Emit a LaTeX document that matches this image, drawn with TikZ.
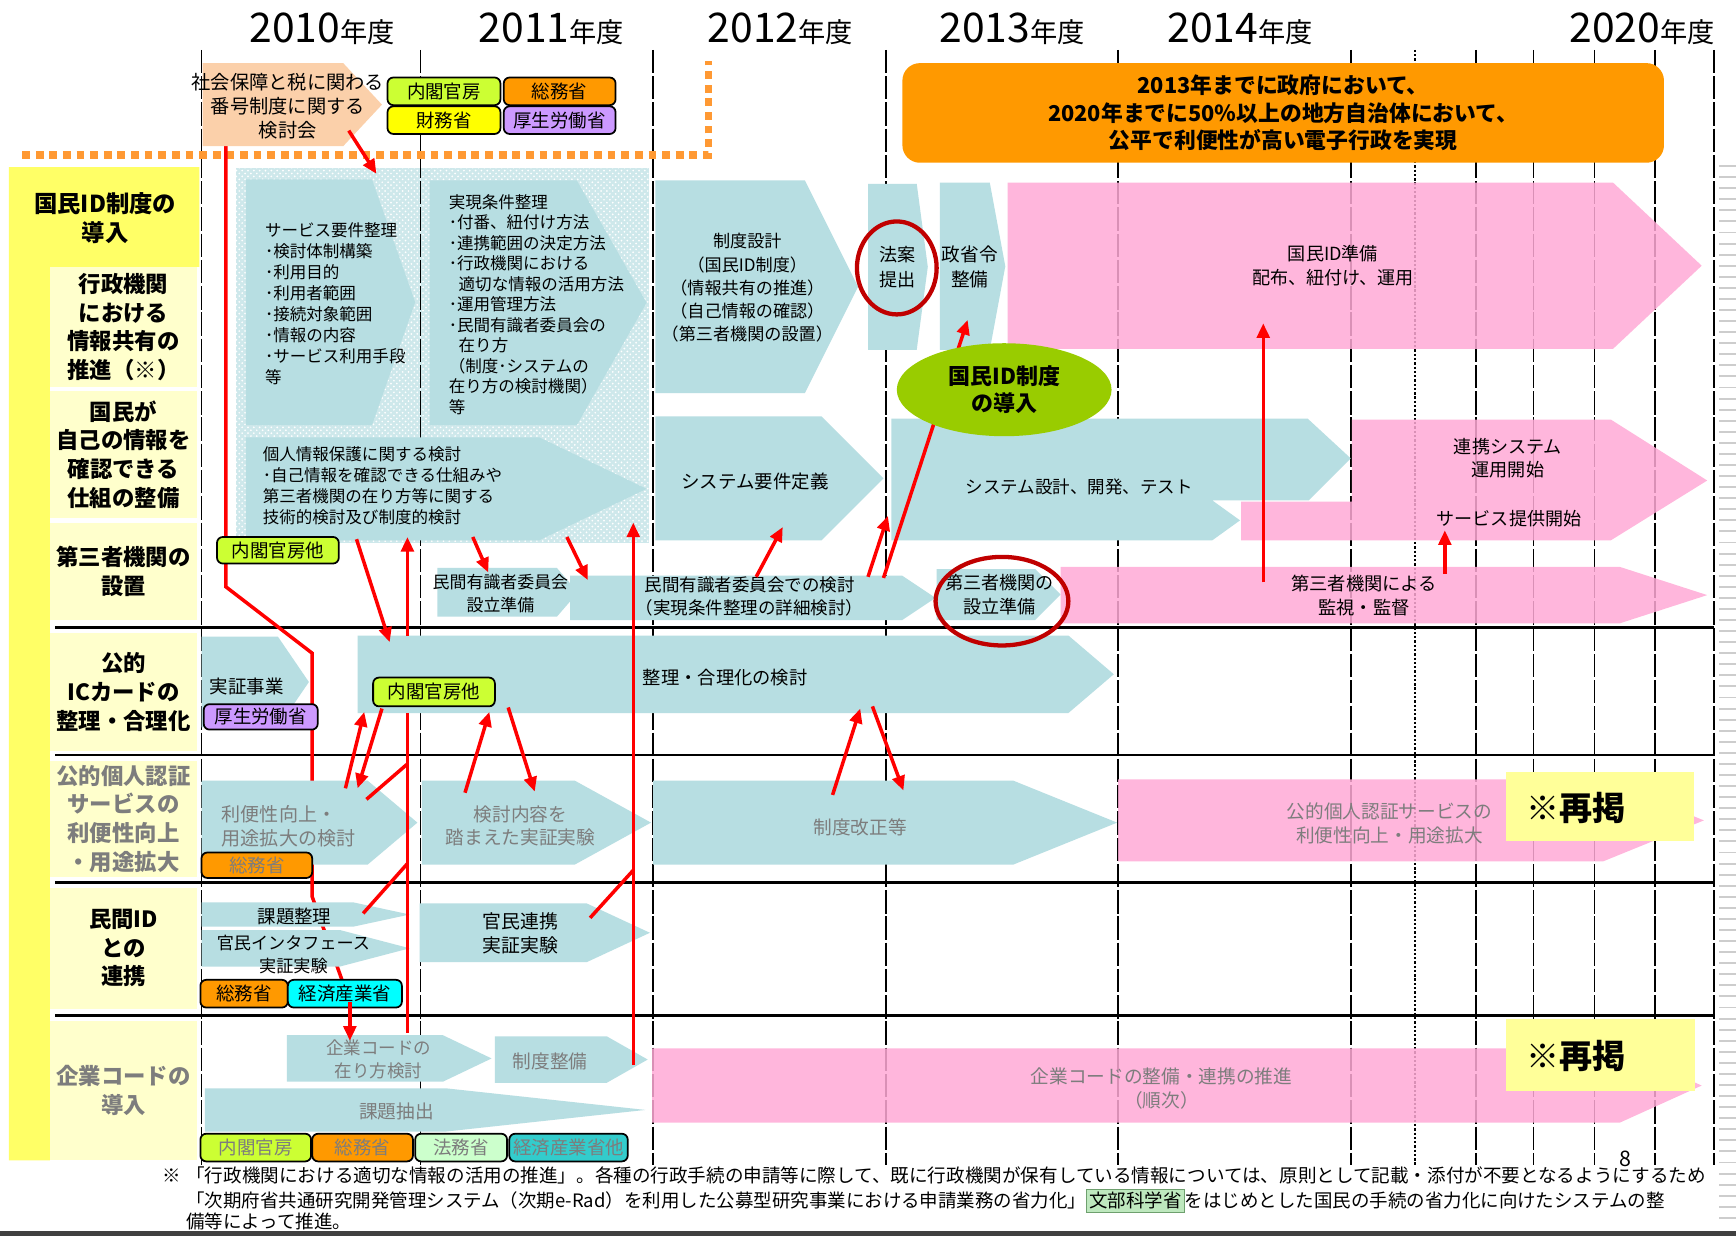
\documentclass[tikz,border=0pt]{standalone}
\usepackage{fontspec}
\setmainfont{Noto Sans CJK JP}
\usepackage{xcolor}
\usepackage{tikz}
\usetikzlibrary{arrows.meta,positioning,shapes.geometric,patterns,calc}

\definecolor{barblue}{RGB}{183,222,226}
\definecolor{barpink}{RGB}{255,170,214}
\definecolor{hatchblue}{RGB}{206,232,235}
\definecolor{colyellow}{RGB}{255,255,102}
\definecolor{lblyellow}{RGB}{255,255,204}
\definecolor{peach}{RGB}{251,208,170}
\definecolor{bannerorange}{RGB}{255,153,0}
\definecolor{dotorange}{RGB}{255,153,51}
\definecolor{tagLime}{RGB}{204,255,51}
\definecolor{tagOrange}{RGB}{255,153,0}
\definecolor{tagYellow}{RGB}{255,255,0}
\definecolor{tagLilac}{RGB}{204,153,255}
\definecolor{tagCyan}{RGB}{0,255,255}
\definecolor{tagTeal}{RGB}{51,204,204}
\definecolor{tagMint}{RGB}{204,255,204}
\definecolor{mextfill}{RGB}{190,232,190}
\definecolor{mextline}{RGB}{110,160,110}
\definecolor{idgreen}{RGB}{153,204,0}
\definecolor{arrred}{RGB}{255,0,0}
\definecolor{ringred}{RGB}{192,0,0}
\definecolor{fadetext}{RGB}{125,125,125}
\definecolor{saikei}{RGB}{255,255,153}
\definecolor{edgegray}{RGB}{205,205,205}

\newcommand{\setfs}[2]{\fontsize{#1}{#2}\selectfont}
% pentagon bar: style, left, top, tip x, bottom, end of straight part
\newcommand{\chev}[6]{\fill[#1] (#2,#3) -- (#6,#3) -- (#4,{(#3+#5)/2}) -- (#6,#5) -- (#2,#5) -- cycle;}

\pgfdeclarelayer{back}
\pgfsetlayers{back,main}

\begin{document}
\begin{tikzpicture}[x=0.02cm, y=-0.02cm,
  yearline/.style={line width=0.8pt, dash pattern=on 12pt off 1.5pt},
  yearfine/.style={line width=0.6pt, dash pattern=on 1.2pt off 1pt},
  rowsep/.style={line width=1.3pt},
  orangedot/.style={draw=dotorange, line width=4pt, dash pattern=on 4pt off 3pt},
  bluebar/.style={fill=barblue},
  pinkbar/.style={fill=barpink, fill opacity=0.85},
  txt/.style={inner sep=0pt, align=left, font=\setfs{8.5}{10.8}},
  ctxt/.style={inner sep=0pt, align=center, font=\setfs{9.5}{12}},
  fade/.style={text=fadetext},
  rowlbl/.style={fill=lblyellow, minimum width=2.66cm, inner sep=0pt, align=center,
                 font=\bfseries\setfs{11.5}{14.7}},
  tag/.style={draw=black, line width=0.9pt, rounded corners=3pt, fill=#1, inner sep=0pt,
              minimum height=0.48cm, font=\setfs{9.5}{10}},
  redarr/.style={draw=arrred, line width=1.8pt, -{Triangle[length=7.5pt,width=6.5pt]}},
  redln/.style={draw=arrred, line width=1.8pt},
  redring/.style={draw=ringred, line width=2.2pt, ellipse, inner sep=0pt},
  yearlbl/.style={inner sep=0pt, anchor=base},
  saikeibox/.style={fill=saikei, inner sep=0pt}
]
\useasboundingbox (0,0) rectangle (1568,1116);

% end points of the red connectors
\coordinate (r0s) at (204,132);  \coordinate (r0e) at (316,905);  \coordinate (r0h) at (316,940);
\coordinate (r1s) at (315,118);  \coordinate (r1e) at (340,157);
\coordinate (r2s) at (322,487);  \coordinate (r2e) at (352,580);
\coordinate (r3a) at (368,933);  \coordinate (r3b) at (368,644);
\coordinate (r3c) at (368,574);  \coordinate (r3d) at (368,485);
\coordinate (r4s) at (427,485);  \coordinate (r4e) at (441,517);
\coordinate (r5s) at (512,485);  \coordinate (r5e) at (531,524);
\coordinate (r6s) at (683,521);  \coordinate (r6e) at (707,476);
\coordinate (r7s) at (784,521);  \coordinate (r7e) at (802,466);
\coordinate (r8s) at (798,522);  \coordinate (r8e) at (874,289);
\coordinate (r9s) at (1141,526); \coordinate (r9e) at (1141,292);
\coordinate (r10s) at (1305,518); \coordinate (r10e) at (1305,479);
\coordinate (r11s) at (572,962); \coordinate (r11e) at (572,472);
\coordinate (r12s) at (331,722); \coordinate (r12e) at (368,690);
\coordinate (r13s) at (328,825); \coordinate (r13e) at (368,780);
\coordinate (r14s) at (533,829); \coordinate (r14e) at (572,786);
\coordinate (r15s) at (312,712); \coordinate (r15e) at (329,643);
\coordinate (r16s) at (345,640); \coordinate (r16e) at (323,712);
\coordinate (r17s) at (420,716); \coordinate (r17e) at (442,643);
\coordinate (r18s) at (459,639); \coordinate (r18e) at (483,715);
\coordinate (r19s) at (752,718); \coordinate (r19e) at (777,640);
\coordinate (r20s) at (788,638); \coordinate (r20e) at (816,714);

\begin{pgfonlayer}{back}
  \fill[white] (0,0) rectangle (1568,1116);
  \fill[colyellow] (8,151) -- (180,151) -- (180,241) -- (45,241) -- (45,1048) -- (8,1048) -- cycle;
  \fill[hatchblue] (213,152) rectangle (586,490);
  \fill[pattern=crosshatch dots, pattern color=white] (213,152) rectangle (586,490);
  \foreach \gx in {182,380,590,800,1010,1220,1333,1385,1440,1495,1548}
    \draw[yearline] (\gx,45) -- (\gx,1052);
  \draw[yearfine] (1278,45) -- (1278,1052);
  \foreach \sy in {567,682,797,917}
    \draw[rowsep] (50,\sy) -- (1548,\sy);
  \foreach \sy in {150,160,...,1100}
    \draw[edgegray, line width=1pt] (1553,\sy) -- (1568,\sy);
  \draw[orangedot] (20,140) -- (640,140) -- (640,55);
  \draw[redln] (r0s) -- (204,530) -- (282,590) -- (282,810) -- (r0e);
  \draw[line width=2.5pt, black!75] (0,1114) -- (1568,1114);
\end{pgfonlayer}

% year heads
\node[yearlbl] (y2010) at (291,38) {\setfs{21}{21}2010\setfs{14}{14}年度};
\node[yearlbl] (y2011) at (498,38) {\setfs{21}{21}2011\setfs{14}{14}年度};
\node[yearlbl] (y2012) at (705,38) {\setfs{21}{21}2012\setfs{14}{14}年度};
\node[yearlbl] (y2013) at (914,38) {\setfs{21}{21}2013\setfs{14}{14}年度};
\node[yearlbl] (y2014) at (1120,38) {\setfs{21}{21}2014\setfs{14}{14}年度};
\node[yearlbl] (y2020) at (1483,38) {\setfs{21}{21}2020\setfs{14}{14}年度};

% row heads
\node[inner sep=0pt, align=center, font=\bfseries\setfs{12}{15}] (rowhead) at (95,197) {国民ID制度の\\導入};
\node[rowlbl, minimum height=2.18cm] (lblShare) at (111.5,295.5) {行政機関\\における\\情報共有の\\推進（※）};
\node[rowlbl, minimum height=2.3cm] (lblSelf) at (111.5,410.5) {国民が\\自己の情報を\\確認できる\\仕組の整備};
\node[rowlbl, minimum height=1.76cm] (lblThird) at (111.5,516) {第三者機関の\\設置};
\node[rowlbl, minimum height=2.12cm] (lblIC) at (111.5,625) {公的\\ICカードの\\整理・合理化};
\node[rowlbl, minimum height=2.1cm, text=fadetext] (lblAuth) at (111.5,739.5) {公的個人認証\\サービスの\\利便性向上\\・用途拡大};
\node[rowlbl, minimum height=2.18cm] (lblPriv) at (111.5,856.5) {民間ID\\との\\連携};
\node[rowlbl, minimum height=2.52cm, text=fadetext] (lblCorp) at (111.5,985) {企業コードの\\導入};

% study group and ministries
\chev{fill=peach}{183}{57}{345}{132}{310}
\node[ctxt, font=\setfs{9.9}{12.2}] (kentoukai) at (260,96) {社会保障と税に関わる\\番号制度に関する\\検討会};
\node[tag=tagLime, minimum width=2.04cm, minimum height=0.5cm] (tNaikaku) at (401,82.5) {内閣官房};
\node[tag=tagOrange, minimum width=2.02cm, minimum height=0.5cm] (tSoumu) at (505.5,82.5) {総務省};
\node[tag=tagYellow, minimum width=2.04cm, minimum height=0.5cm] (tZaimu) at (401,108.5) {財務省};
\node[tag=tagLilac, minimum width=2.02cm, minimum height=0.5cm] (tKousei) at (505.5,108.5) {厚生労働省};

\node[fill=bannerorange, rounded corners=9pt, minimum width=13.76cm, minimum height=1.8cm,
      align=center, font=\bfseries\setfs{11.2}{14}] (banner) at (1159,102)
  {2013年までに政府において、\\2020年までに50％以上の地方自治体において、\\公平で利便性が高い電子行政を実現};

% national ID rows
\chev{bluebar}{222}{162}{375}{384}{336}
\node[txt, anchor=west] (svcReq) at (239,274)
  {サービス要件整理\\･検討体制構築\\･利用目的\\･利用者範囲\\･接続対象範囲\\･情報の内容\\･サービス利用手段\\等};
\chev{bluebar}{388}{163}{584}{384}{521}
\node[txt, anchor=west, font=\setfs{8.5}{10.55}] (jitsugen) at (405,275)
  {実現条件整理\\･付番、紐付け方法\\･連携範囲の決定方法\\･行政機関における\\\hspace*{0.6em}適切な情報の活用方法\\･運用管理方法\\･民間有識者委員会の\\\hspace*{0.6em}在り方\\（制度･システムの\\在り方の検討機関）\\等};
\chev{bluebar}{222}{395}{584}{488}{487}
\node[txt, anchor=west] (kojin) at (237,439)
  {個人情報保護に関する検討\\･自己情報を確認できる仕組みや\\第三者機関の在り方等に関する\\技術的検討及び制度的検討};
\node[tag=tagLime, minimum width=2.2cm] (tNaikakuA) at (251,497) {内閣官房他};

\chev{bluebar}{592}{163}{775}{355}{727}
\node[ctxt, font=\setfs{8.8}{11.9}] (seidoSekkei) at (675,260)
  {制度設計\\（国民ID制度）\\（情報共有の推進）\\（自己情報の確認）\\（第三者機関の設置）};
\chev{bluebar}{784}{166}{838}{316}{828}
\node[ctxt, font=\setfs{9.3}{13}] (houan) at (811,241) {法案\\提出};
\chev{bluebar}{849}{165}{908}{316}{894}
\node[ctxt, font=\setfs{9.6}{13}] (seishourei) at (876,241) {政省令\\整備};
\chev{pinkbar}{910}{165}{1537}{315}{1457}
\node[ctxt, font=\setfs{9.3}{12}] (idJunbi) at (1204,240) {国民ID準備\\配布、紐付け、運用};

\chev{bluebar}{592}{376}{798}{488}{742}
\node[ctxt] (sysReq) at (682,435) {システム要件定義};
\fill[bluebar] (805,378) -- (1181,378) -- (1220,414) -- (1182,452) -- (1095,452)
  -- (1120,470) -- (1095,488) -- (805,488) -- cycle;
\node[ctxt, font=\setfs{9}{12}] (sysDev) at (975,440) {システム設計、開発、テスト};
\fill[pinkbar] (1221,379) -- (1455,379) -- (1542,434) -- (1455,488) -- (1121,488)
  -- (1121,453) -- (1221,453) -- cycle;
\node[ctxt, font=\setfs{9.3}{12}] (renkeiSys) at (1362,414) {連携システム\\運用開始};
\node[ctxt, font=\setfs{9.3}{12}] (svcStart) at (1363,468) {サービス提供開始};

\chev{bluebar}{395}{513}{522}{557}{503}
\node[ctxt, font=\setfs{8.7}{11.5}] (iinkaiPrep) at (452,536) {民間有識者委員会\\設立準備};
\chev{bluebar}{515}{520}{845}{560}{815}
\node[ctxt, font=\setfs{9}{12}] (iinkai) at (677,539) {民間有識者委員会での検討\\（実現条件整理の詳細検討）};
\chev{bluebar}{846}{514}{958}{560}{935}
\node[ctxt, font=\setfs{9.3}{12}] (thirdPrep) at (903,537) {第三者機関の\\設立準備};
\chev{pinkbar}{958}{512}{1542}{563}{1463}
\node[ctxt, font=\setfs{9.4}{12}] (kanshi) at (1232,538) {第三者機関による\\監視・監督};

% public IC card row
\chev{bluebar}{182}{575}{279}{657}{251}
\node[ctxt] (jisshou) at (223,620) {実証事業};
\node[tag=tagLilac, minimum width=2.06cm, minimum height=0.46cm] (tKouseiB) at (235.5,647.5) {厚生労働省};
\chev{bluebar}{323}{574}{1006}{644}{965}
\node[ctxt, font=\setfs{9.4}{12}] (seiri) at (655,612) {整理・合理化の検討};
\node[tag=tagLime, minimum width=2.2cm, minimum height=0.52cm] (tNaikakuB) at (392,625) {内閣官房他};

% public authentication row
\chev{bluebar}{182}{705}{377}{781}{332}
\node[txt, anchor=west, fade, font=\setfs{9.8}{12.5}] (benri) at (200,746) {利便性向上・\\用途拡大の検討};
\node[tag=tagOrange, minimum width=2.0cm, minimum height=0.46cm, text=fadetext] (tSoumuB) at (232,781.5) {総務省};
\chev{bluebar}{381}{705}{588}{781}{519}
\node[ctxt, fade, font=\setfs{9.6}{12.2}] (fumaeta) at (470,746) {検討内容を\\踏まえた実証実験};
\chev{bluebar}{590}{705}{1009}{781}{915}
\node[ctxt, fade, font=\setfs{9.6}{12}] (kaisei) at (777,747) {制度改正等};
\chev{pinkbar}{1010}{704}{1539}{778}{1448}
\node[ctxt, fade, font=\setfs{9.6}{12.5}] (ninshou) at (1255,744) {公的個人認証サービスの\\利便性向上・用途拡大};
\node[saikeibox, minimum width=3.4cm, minimum height=1.26cm] (saiA) at (1445,728.5) {};
\node[inner sep=0pt, anchor=west, font=\bfseries\setfs{17}{17}] (saiAt) at (1378,730) {※再掲};

% private ID row
\chev{bluebar}{182}{815}{370}{837}{319}
\node[ctxt] (kadai) at (266,828) {課題整理};
\chev{bluebar}{182}{840}{370}{873}{307}
\node[ctxt, font=\setfs{8.8}{11.8}] (ifJikken) at (265,862) {官民インタフェース\\実証実験};
\node[tag=tagOrange, minimum width=1.58cm, minimum height=0.5cm] (tSoumuC) at (220.5,897.5) {総務省};
\node[tag=tagCyan, minimum width=2.06cm, minimum height=0.5cm] (tKeisan) at (311.5,897.5) {経済産業省};
\chev{bluebar}{379}{816}{587}{869}{530}
\node[ctxt, font=\setfs{9.7}{12}] (kanmin) at (470,843) {官民連携\\実証実験};

% corporate code row
\chev{bluebar}{259}{935}{444}{977}{400}
\node[ctxt, fade, font=\setfs{9}{12}] (arikata) at (342,957) {企業コードの\\在り方検討};
\chev{bluebar}{447}{936}{585}{978}{548}
\node[ctxt, fade, font=\setfs{9.6}{12}] (seibi) at (497,959) {制度整備};
\chev{bluebar}{185}{983}{583}{1022}{403}
\node[ctxt, fade, font=\setfs{9.6}{12}] (chuushutsu) at (358,1004) {課題抽出};
\node[tag=tagLime, minimum width=2.0cm, minimum height=0.5cm, text=fadetext] (tNaikakuC) at (231,1036.5) {内閣官房};
\node[tag=tagOrange, minimum width=1.82cm, minimum height=0.5cm, text=fadetext] (tSoumuD) at (327.5,1036.5) {総務省};
\node[tag=tagMint, minimum width=1.66cm, minimum height=0.5cm, text=fadetext] (tHoumu) at (416.5,1036.5) {法務省};
\node[tag=tagTeal, minimum width=2.14cm, minimum height=0.5cm, text=fadetext] (tKeisanB) at (513.5,1036.5) {経済産業省他};
\chev{pinkbar}{589}{947}{1537}{1014}{1463}
\node[ctxt, fade, font=\setfs{9.6}{12.5}] (corpCode) at (1049,983) {企業コードの整備・連携の推進\\（順次）};
\node[saikeibox, minimum width=3.42cm, minimum height=1.3cm] (saiB) at (1445.5,952.5) {};
\node[inner sep=0pt, anchor=west, font=\bfseries\setfs{17}{17}] (saiBt) at (1378,954) {※再掲};
\node[inner sep=0pt, font=\setfs{11}{11}] (pageNo) at (1468,1047) {8};

% red connectors
\draw[redarr] (r0e) -- (r0h);
\foreach \a/\b in {r1s/r1e, r2s/r2e, r3c/r3d, r4s/r4e, r5s/r5e, r6s/r6e, r7s/r7e, r8s/r8e,
                   r9s/r9e, r10s/r10e, r11s/r11e, r15s/r15e, r16s/r16e, r17s/r17e,
                   r18s/r18e, r19s/r19e, r20s/r20e}
  \draw[redarr] (\a) -- (\b);
\foreach \a/\b in {r3a/r3b, r12s/r12e, r13s/r13e, r14s/r14e}
  \draw[redln] (\a) -- (\b);

\node[ellipse, fill=idgreen, minimum width=3.88cm, minimum height=1.68cm, align=center,
      font=\bfseries\setfs{11.3}{14}] (idIntro) at (907,352) {国民ID制度\\の導入};
\node[redring, minimum width=1.44cm, minimum height=1.68cm] (ringBill) at (810,242) {};
\node[redring, minimum width=2.4cm, minimum height=1.6cm] (ringThird) at (905,543) {};

% footnote
\node[inner sep=0pt, anchor=base west, font=\setfs{9.5}{12}] (fnMark) at (146,1068) {※};
\node[inner sep=0pt, anchor=base west, font=\setfs{9.55}{12}] (fnOne) at (168,1068)
  {「行政機関における適切な情報の活用の推進」。各種の行政手続の申請等に際して、既に行政機関が保有している情報については、原則として記載・添付が不要となるようにするため};
\node[inner sep=0pt, anchor=base west, font=\setfs{9.5}{12}] (fnTwo) at (168,1091)
  {「次期府省共通研究開発管理システム（次期e-Rad）を利用した公募型研究事業における申請業務の省力化」\setlength{\fboxsep}{1.2pt}\fcolorbox{mextline}{mextfill}{文部科学省}をはじめとした国民の手続の省力化に向けたシステムの整};
\node[inner sep=0pt, anchor=base west, font=\setfs{9.5}{12}] (fnThree) at (168,1110) {備等によって推進。};
\end{tikzpicture}
\end{document}
